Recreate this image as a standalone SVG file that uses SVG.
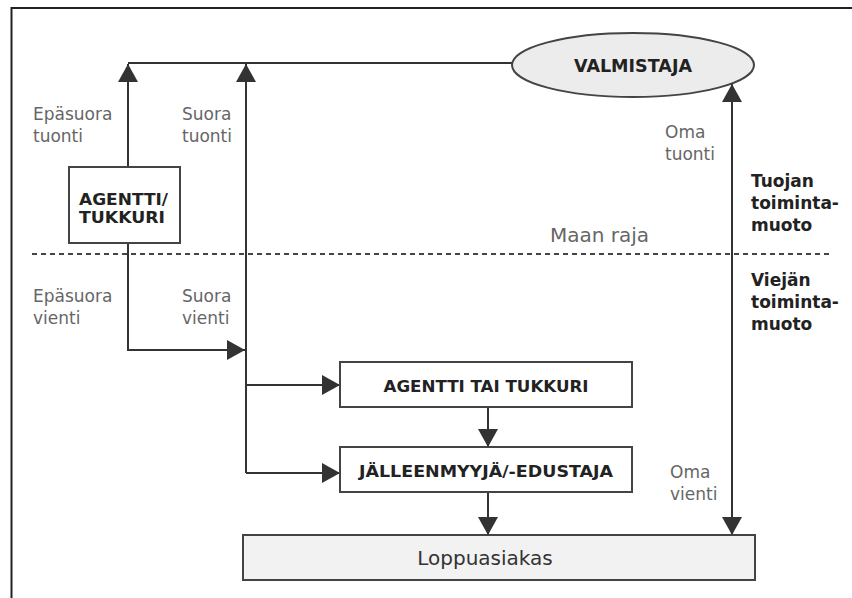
<svg xmlns="http://www.w3.org/2000/svg" width="852" height="598" viewBox="0 0 852 598">
<style>
.ln{stroke:#333;stroke-width:2;fill:none}
.box{stroke:#444;stroke-width:2;fill:#fff}
.lbl{font-family:"DejaVu Sans",sans-serif;font-size:17px;fill:#666}
.bold{font-family:"DejaVu Sans",sans-serif;font-weight:bold;font-size:17px;fill:#222}
.bx{font-family:"DejaVu Sans",sans-serif;font-weight:bold;font-size:16px;fill:#222}
</style>
<defs>
<marker id="ah" viewBox="0 0 18 20" refX="18" refY="10" markerWidth="18" markerHeight="20" markerUnits="userSpaceOnUse" orient="auto-start-reverse">
<path d="M0,0 L18,10 L0,20 z" fill="#333"/>
</marker>
</defs>
<rect width="852" height="598" fill="#fff"/>
<path d="M11.5,598 L11.5,8 L852,8" stroke="#222" stroke-width="2" fill="none"/>

<g id="connectors">
<path class="ln" d="M128,63 L512,63"/>
<path class="ln" d="M128,167 L128,64" marker-end="url(#ah)"/>
<path class="ln" d="M246,473 L246,64" marker-end="url(#ah)"/>
<path class="ln" d="M128,243 L128,350 L245,350" marker-end="url(#ah)"/>
<path class="ln" d="M246,385 L340,385" marker-end="url(#ah)"/>
<path class="ln" d="M246,473 L340,473" marker-end="url(#ah)"/>
<path class="ln" d="M488,407 L488,447" marker-end="url(#ah)"/>
<path class="ln" d="M488,492 L488,535" marker-end="url(#ah)"/>
<path class="ln" d="M732,84 L732,535" marker-start="url(#ah)" marker-end="url(#ah)"/>
</g>

<g id="border-line">
<line x1="32" y1="254" x2="832" y2="254" stroke="#444" stroke-width="2" stroke-dasharray="5 4"/>
<text class="lbl" x="550" y="242" style="font-size:20px">Maan raja</text>
</g>

<g id="valmistaja">
<ellipse cx="633" cy="65" rx="121" ry="32" fill="#ececec" stroke="#444" stroke-width="2"/>
<text class="bold" x="633" y="72" text-anchor="middle" textLength="118" lengthAdjust="spacingAndGlyphs">VALMISTAJA</text>
</g>

<g id="agentti-tukkuri">
<rect class="box" x="69" y="167" width="111" height="76"/>
<text class="bx" x="79" y="205" textLength="89" lengthAdjust="spacingAndGlyphs">AGENTTI/</text>
<text class="bx" x="79" y="223" textLength="86" lengthAdjust="spacingAndGlyphs">TUKKURI</text>
</g>

<g id="agentti-tai-tukkuri">
<rect class="box" x="340" y="362" width="292" height="45"/>
<text class="bx" x="486" y="392" text-anchor="middle" textLength="205" lengthAdjust="spacingAndGlyphs">AGENTTI TAI TUKKURI</text>
</g>

<g id="jalleenmyyja">
<rect class="box" x="340" y="447" width="292" height="45"/>
<text class="bx" x="486" y="477" text-anchor="middle" textLength="254" lengthAdjust="spacingAndGlyphs">JÄLLEENMYYJÄ/-EDUSTAJA</text>
</g>

<g id="loppuasiakas">
<rect x="243" y="535" width="512" height="45" fill="#f2f2f2" stroke="#444" stroke-width="2"/>
<text class="lbl" x="485" y="565" text-anchor="middle" style="font-size:20px;fill:#333">Loppuasiakas</text>
</g>

<g id="labels">
<text class="lbl" x="33" y="120">Epäsuora</text>
<text class="lbl" x="33" y="142">tuonti</text>
<text class="lbl" x="182" y="120">Suora</text>
<text class="lbl" x="182" y="142">tuonti</text>
<text class="lbl" x="33" y="302">Epäsuora</text>
<text class="lbl" x="33" y="324">vienti</text>
<text class="lbl" x="182" y="302">Suora</text>
<text class="lbl" x="182" y="324">vienti</text>
<text class="lbl" x="665" y="138">Oma</text>
<text class="lbl" x="665" y="160">tuonti</text>
<text class="lbl" x="670" y="478">Oma</text>
<text class="lbl" x="670" y="500">vienti</text>
<text class="bold" x="751" y="187">Tuojan</text>
<text class="bold" x="751" y="209">toiminta-</text>
<text class="bold" x="751" y="231">muoto</text>
<text class="bold" x="751" y="286">Viejän</text>
<text class="bold" x="751" y="308">toiminta-</text>
<text class="bold" x="751" y="330">muoto</text>
</g>
</svg>
